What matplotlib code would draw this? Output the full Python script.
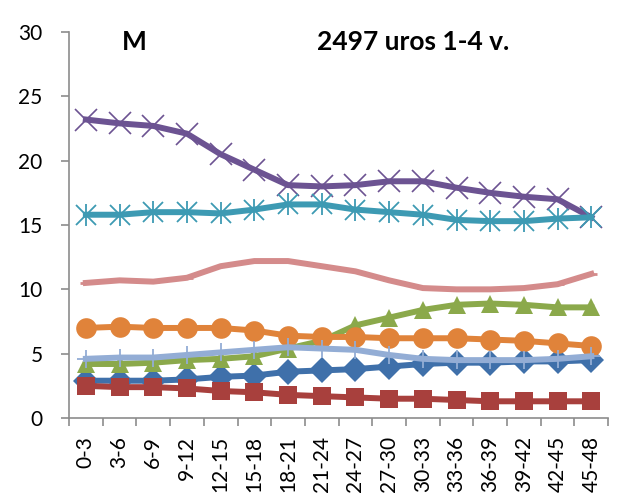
import matplotlib
matplotlib.use("Agg")
import matplotlib.pyplot as plt
import numpy as np

plt.rcParams['font.family'] = ['Lato', 'DejaVu Sans']

categories = ["0-3", "3-6", "6-9", "9-12", "12-15", "15-18", "18-21", "21-24",
              "24-27", "27-30", "30-33", "33-36", "36-39", "39-42", "42-45", "45-48"]

s_blue = [2.9, 2.9, 2.9, 3.0, 3.2, 3.3, 3.6, 3.7, 3.8, 4.0, 4.2, 4.3, 4.3, 4.4, 4.4, 4.5]
s_red = [2.5, 2.4, 2.4, 2.3, 2.1, 2.0, 1.8, 1.7, 1.6, 1.5, 1.5, 1.4, 1.3, 1.3, 1.3, 1.3]
s_green = [4.2, 4.2, 4.3, 4.5, 4.6, 4.8, 5.4, 6.0, 7.2, 7.8, 8.4, 8.8, 8.9, 8.8, 8.6, 8.6]
s_purple = [23.2, 22.9, 22.7, 22.1, 20.5, 19.3, 18.1, 18.0, 18.1, 18.4, 18.4, 17.9, 17.5, 17.2, 17.0, 15.6]
s_teal = [15.8, 15.8, 16.0, 16.0, 15.9, 16.2, 16.6, 16.6, 16.2, 16.0, 15.8, 15.4, 15.3, 15.3, 15.5, 15.6]
s_orange = [7.0, 7.1, 7.0, 7.0, 7.0, 6.8, 6.4, 6.3, 6.3, 6.2, 6.2, 6.2, 6.1, 6.0, 5.8, 5.6]
s_lightblue = [4.6, 4.7, 4.7, 4.9, 5.1, 5.3, 5.5, 5.4, 5.3, 4.9, 4.6, 4.5, 4.5, 4.5, 4.6, 4.8]
s_pink = [10.5, 10.7, 10.6, 10.9, 11.8, 12.2, 12.2, 11.8, 11.4, 10.7, 10.1, 10.0, 10.0, 10.1, 10.4, 11.2]

fig = plt.figure(figsize=(6.19, 4.98), dpi=100)
ax = fig.add_axes([0.1115, 0.1606, 0.871, 0.7751])

x = np.arange(len(categories))
lw = 4.3
ms = 13.5

series = [
    (s_blue, "#3F70AA", "D", ms * 0.95, 0),
    (s_red, "#A8403D", "s", ms, 0),
    (s_green, "#8BA94B", "^", ms, 0),
    (s_purple, "#6C5392", "x", ms * 1.15, 1.2),
    (s_teal, "#3D9AB3", "*", ms, 0),
    (s_orange, "#E0833A", "o", ms * 1.1, 0),
    (s_lightblue, "#93ADD5", "+", ms, 1.3),
    (s_pink, "#D48B8B", "_", ms * 0.6, 2),
]

for vals, col, mk, size, mew in series:
    if mk == "*":
        # asterisk drawn as an x overlaid with a vertical bar
        ax.plot(x, vals, color=col, lw=lw, solid_joinstyle="round", zorder=2)
        ax.plot(x, vals, ls="none", marker="x", ms=size * 1.05, mew=1.3, color=col, zorder=3)
        ax.plot(x, vals, ls="none", marker="|", ms=size * 1.2, mew=1.3, color=col, zorder=3)
        continue
    ax.plot(x, vals, color=col, lw=lw, marker=mk, ms=size, solid_joinstyle="round",
            zorder=2, markerfacecolor=col, markeredgecolor=col, mew=mew)

ax.set_xlim(-0.5, len(categories) - 0.5)
ax.set_ylim(0, 30)
ax.set_yticks(range(0, 31, 5))

ax.set_xticks(x)
ax.set_xticklabels(categories, rotation=90, fontsize=15)
ax.set_xticks(np.arange(-0.5, len(categories)), minor=True)
ax.tick_params(axis="x", which="major", length=0, pad=13)
ax.tick_params(axis="x", which="minor", length=6, width=1.2, color="#8C8C8C", direction="out")
ax.tick_params(axis="y", length=6, width=1.2, color="#8C8C8C", direction="out", labelsize=15, pad=13)

for side in ("top", "right"):
    ax.spines[side].set_visible(False)
for side in ("left", "bottom"):
    ax.spines[side].set_color("#8C8C8C")
    ax.spines[side].set_linewidth(1.2)

ax.text(1.44, 29.2, "M", fontsize=19, fontweight="bold", ha="center", va="center")
ax.text(9.7, 29.2, "2497 uros 1-4 v.", fontsize=19, fontweight="bold", ha="center", va="center")

fig.savefig("out.png", dpi=100)
